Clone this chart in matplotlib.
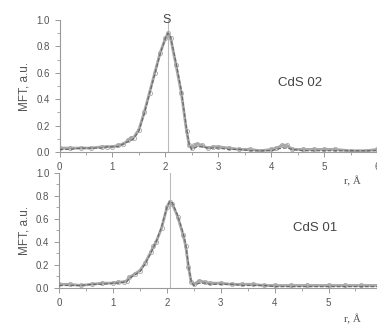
import numpy as np
import matplotlib
matplotlib.use('Agg')
import matplotlib.pyplot as plt
from matplotlib.ticker import MultipleLocator

plt.rcParams['font.family'] = ['Liberation Sans', 'DejaVu Sans']

# ── Fourier-transform moduli, CdS 02 (top) ───────────────────────────────────
r_02 = [0.0, 0.2, 0.4, 0.6, 0.8, 0.9, 1.0, 1.1, 1.2, 1.3, 1.35, 1.4, 1.5, 1.6,
        1.7, 1.8, 1.9, 2.0, 2.05, 2.1, 2.2, 2.3, 2.4, 2.45, 2.5, 2.55, 2.6,
        2.7, 2.8, 2.9, 3.0, 3.2, 3.4, 3.6, 3.8, 4.0, 4.1, 4.2, 4.3, 4.4, 4.6,
        4.8, 5.0, 5.2, 5.5, 5.8, 6.0]
exp_02 = [0.03, 0.03, 0.03, 0.03, 0.04, 0.04, 0.04, 0.05, 0.06, 0.09, 0.11, 0.11,
          0.17, 0.30, 0.45, 0.60, 0.75, 0.86, 0.90, 0.86, 0.66, 0.45, 0.16, 0.05,
          0.03, 0.05, 0.06, 0.05, 0.03, 0.04, 0.04, 0.03, 0.02, 0.02, 0.01, 0.02,
          0.03, 0.05, 0.05, 0.02, 0.02, 0.02, 0.02, 0.02, 0.01, 0.01, 0.02]
fit_02 = [0.02, 0.02, 0.03, 0.03, 0.03, 0.04, 0.04, 0.04, 0.06, 0.08, 0.09, 0.10,
          0.16, 0.29, 0.44, 0.59, 0.74, 0.86, 0.90, 0.87, 0.68, 0.47, 0.18, 0.06,
          0.02, 0.03, 0.04, 0.04, 0.03, 0.03, 0.03, 0.02, 0.02, 0.01, 0.01, 0.01,
          0.02, 0.03, 0.03, 0.02, 0.01, 0.01, 0.01, 0.01, 0.01, 0.01, 0.01]

# ── CdS 01 (bottom) ──────────────────────────────────────────────────────────
r_01 = [0.0, 0.2, 0.4, 0.6, 0.8, 1.0, 1.1, 1.2, 1.25, 1.3, 1.4, 1.5, 1.6, 1.7,
        1.75, 1.8, 1.9, 2.0, 2.05, 2.1, 2.2, 2.3, 2.35, 2.4, 2.45, 2.5, 2.6,
        2.7, 2.8, 3.0, 3.2, 3.4, 3.6, 3.8, 4.0, 4.3, 4.6, 5.0, 5.3, 5.6, 6.0]
exp_01 = [0.03, 0.03, 0.02, 0.03, 0.04, 0.04, 0.05, 0.05, 0.06, 0.09, 0.12, 0.15,
          0.22, 0.31, 0.36, 0.40, 0.52, 0.70, 0.75, 0.73, 0.62, 0.46, 0.36, 0.18,
          0.05, 0.03, 0.06, 0.05, 0.04, 0.04, 0.03, 0.03, 0.03, 0.02, 0.02, 0.02,
          0.02, 0.02, 0.02, 0.02, 0.02]
fit_01 = [0.02, 0.02, 0.02, 0.03, 0.03, 0.04, 0.04, 0.05, 0.05, 0.08, 0.11, 0.14,
          0.21, 0.30, 0.35, 0.40, 0.53, 0.70, 0.75, 0.74, 0.63, 0.48, 0.38, 0.20,
          0.06, 0.02, 0.04, 0.04, 0.03, 0.03, 0.03, 0.02, 0.02, 0.02, 0.01, 0.01,
          0.01, 0.01, 0.01, 0.01, 0.01]

r_S = 2.05                       # Cd–S coordination shell
panels = [
    # (r, exp, fit, label, label xy, axes rect, xmax, r-label y)
    (r_02, exp_02, fit_02, 'CdS 02', (4.55, 0.52), [0.158, 0.535, 0.842, 0.404], 6.0, 0.445),
    (r_01, exp_01, fit_01, 'CdS 01', (4.75, 0.52), [0.157, 0.120, 0.843, 0.351], 5.9, 0.024),
]

txt_c = '#555555'
ax_c = '#9a9a9a'

fig = plt.figure(figsize=(3.77, 3.27), dpi=100)

for i, (r, e, f, name, (lx, ly), rect, xmax, ry) in enumerate(panels):
    ax = fig.add_axes(rect)
    ax.axvline(r_S, color='#bbbbbb', linewidth=0.8, zorder=1)
    ax.plot(r, e, color='#a8a8a8', linewidth=2.0, marker='o', markersize=3.0,
            markerfacecolor='none', markeredgecolor='#a8a8a8', markeredgewidth=0.6,
            zorder=2)
    ax.plot(r, f, color='#6a6a6a', linewidth=0.9, linestyle=(0, (3, 1.5)), zorder=3)

    ax.set_xlim(0, xmax)
    ax.set_ylim(0, 1.0)
    ax.xaxis.set_major_locator(MultipleLocator(1))
    ax.xaxis.set_minor_locator(MultipleLocator(0.5))
    ax.yaxis.set_major_locator(MultipleLocator(0.2))
    ax.yaxis.set_minor_locator(MultipleLocator(0.1))
    ax.yaxis.set_major_formatter(matplotlib.ticker.FormatStrFormatter('%.1f'))

    for s in ['top', 'right']:
        ax.spines[s].set_visible(False)
    for s in ['left', 'bottom']:
        ax.spines[s].set_color(ax_c)
        ax.spines[s].set_linewidth(0.8)
    ax.tick_params(which='both', direction='out', colors=ax_c, labelcolor=txt_c,
                   labelsize=7)
    ax.tick_params(which='major', length=3.5, width=0.7)
    ax.tick_params(which='minor', length=2, width=0.6)
    ax.tick_params(axis='x', pad=4)

    ax.set_ylabel('MFT, a.u.', fontsize=8.5, color=txt_c, labelpad=4)
    ax.text(lx, ly, name, fontsize=9.5, color='#444444', ha='center', va='center')
    fig.text(0.936, ry, 'r, Å', fontsize=8, color=txt_c,
             family=['Liberation Serif', 'DejaVu Serif'], ha='center', va='center')
    if i == 0:
        ax.text(r_S - 0.03, 1.0, 'S', fontsize=9, color='#444444',
                ha='center', va='center')

fig.savefig('out.png', dpi=100)
